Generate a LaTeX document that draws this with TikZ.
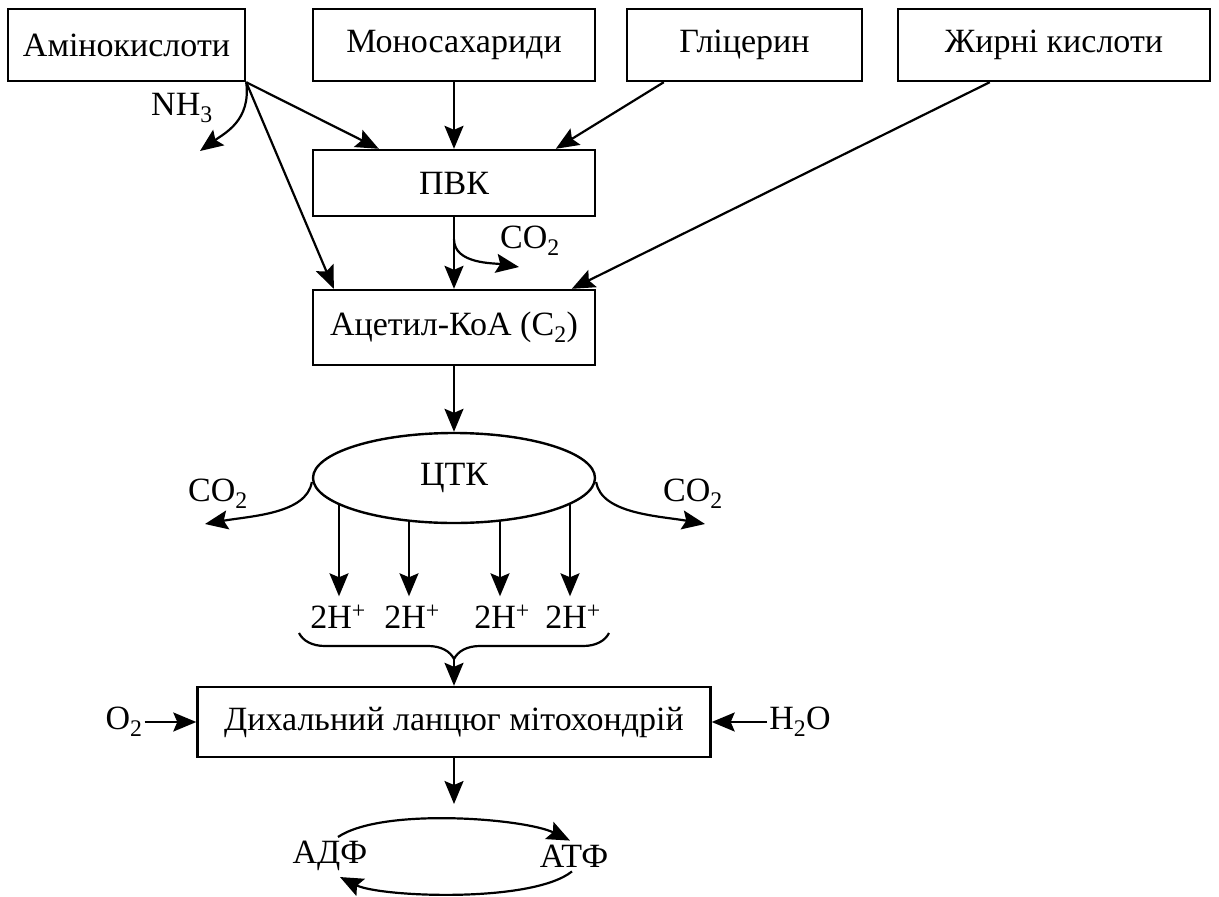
\documentclass[tikz,border=0pt]{standalone}
\usepackage{fontspec}
\setmainfont{Liberation Serif}
\usetikzlibrary{shapes.geometric,arrows.meta,decorations.pathreplacing,calc}
\begin{document}
\begin{tikzpicture}[x=1pt,y=-1pt,
  every node/.style={font=\fontsize{34}{38}\selectfont, inner sep=2pt},
  box/.style={draw, line width=2.4pt, rectangle, inner sep=0pt},
  oval/.style={draw, line width=2.4pt, ellipse, inner sep=0pt},
  arr/.style={line width=2.2pt, -{Stealth[length=23pt,width=19pt,inset=4pt]}},
  plain/.style={line width=2.2pt}]
\useasboundingbox (0,0) rectangle (1219,897);
% boxes
\node[box, minimum width=237pt, minimum height=72pt] (amino) at (126.5,45) {Амінокислоти};
\node[box, minimum width=282pt, minimum height=72pt] (mono) at (454,45) {Моносахариди};
\node[box, minimum width=235pt, minimum height=72pt] (glic) at (744.5,45) {Гліцерин};
\node[box, minimum width=312pt, minimum height=72pt] (fat) at (1054,45) {Жирні кислоти};
\node[box, minimum width=282pt, minimum height=66pt] (pvk) at (454,183) {ПВК};
\node[box, minimum width=282pt, minimum height=75pt] (acet) at (454,327.5) {Ацетил-КоА (C\textsubscript{2})};
\node[oval, minimum width=282pt, minimum height=90pt] (ctk) at (454,478) {ЦТК};
\node[box, minimum width=513pt, minimum height=70pt] (resp) at (454,722) {Дихальний ланцюг мітохондрій};
% labels
\node (nh3) at (182,108) {NH\textsubscript{3}};
\node (co2a) at (530,241) {CO\textsubscript{2}};
\node (co2l) at (218,494) {CO\textsubscript{2}};
\node (co2r) at (693,494) {CO\textsubscript{2}};
\node[anchor=base] (h1) at (338,628) {2H\textsuperscript{+}};
\node[anchor=base] (h2) at (412,628) {2H\textsuperscript{+}};
\node[anchor=base] (h3) at (502,628) {2H\textsuperscript{+}};
\node[anchor=base] (h4) at (573,628) {2H\textsuperscript{+}};
\node (o2) at (124,722) {O\textsubscript{2}};
\node (h2o) at (800,722) {H\textsubscript{2}O};
\node (adp) at (330,856) {АДФ};
\node (atp) at (574,856) {АТФ};
% coordinates
\coordinate (nh3end) at (200,151);
\coordinate (co2aend) at (519,267);
\coordinate (co2lend) at (205,524);
\coordinate (co2rend) at (705,524);
\coordinate (bl) at (299,633);
\coordinate (br) at (609,633);
\coordinate (btip) at (454,660);
\coordinate (respout) at (454,804);
\coordinate (s1) at ($(ctk.center)+(-115,25)$);
\coordinate (s2) at ($(ctk.center)+(-45,42)$);
\coordinate (s3) at ($(ctk.center)+(46,42)$);
\coordinate (s4) at ($(ctk.center)+(116,25)$);
% top connectors
\draw[arr] (amino.south east) -- ($(pvk.north west)+(67,0)$);
\draw[arr] (amino.south east) -- ($(acet.north west)+(22,0)$);
\draw[arr] (amino.south east) .. controls +(5,38) and +(25,-18) .. (nh3end);
\draw[arr] (mono.south) -- (pvk.north);
\draw[arr] ($(glic.south west)+(38,0)$) -- ($(pvk.north west)+(244,0)$);
\draw[arr] ($(fat.south west)+(93,0)$) -- ($(acet.north west)+(260,0)$);
\draw[arr] (pvk.south) -- (acet.north);
\draw[arr] ($(pvk.south)+(0,22)$) .. controls +(0,25) and +(-25,-4) .. (co2aend);
\draw[arr] (acet.south) -- (ctk.north);
% CTK outputs
\draw[arr] ($(ctk.west)+(0,4)$) .. controls +(-5,32) and +(45,-8) .. (co2lend);
\draw[arr] ($(ctk.east)+(0,4)$) .. controls +(5,32) and +(-45,-8) .. (co2rend);
\draw[arr] (s1) -- ($(s1 |- h1.north)+(0,-7)$);
\draw[arr] (s2) -- ($(s2 |- h2.north)+(0,-7)$);
\draw[arr] (s3) -- ($(s3 |- h3.north)+(0,-7)$);
\draw[arr] (s4) -- ($(s4 |- h4.north)+(0,-7)$);
% brace
\draw[plain, decorate, decoration={brace, amplitude=26pt, mirror}] (bl) -- (br);
\draw[arr] (btip) -- (resp.north);
% respiration chain
\draw[arr] (o2.east) -- (resp.west);
\draw[arr] (h2o.west) -- (resp.east);
\draw[arr] (resp.south) -- (respout);
\draw[arr] ($(adp.north)+(8,-2)$) .. controls +(45,-30) and +(-45,-22) .. ($(atp.north)+(-4,-2)$);
\draw[arr] ($(atp.south)+(-2,2)$) .. controls +(-40,32) and +(40,20) .. ($(adp.south)+(10,4)$);
\end{tikzpicture}
\end{document}
